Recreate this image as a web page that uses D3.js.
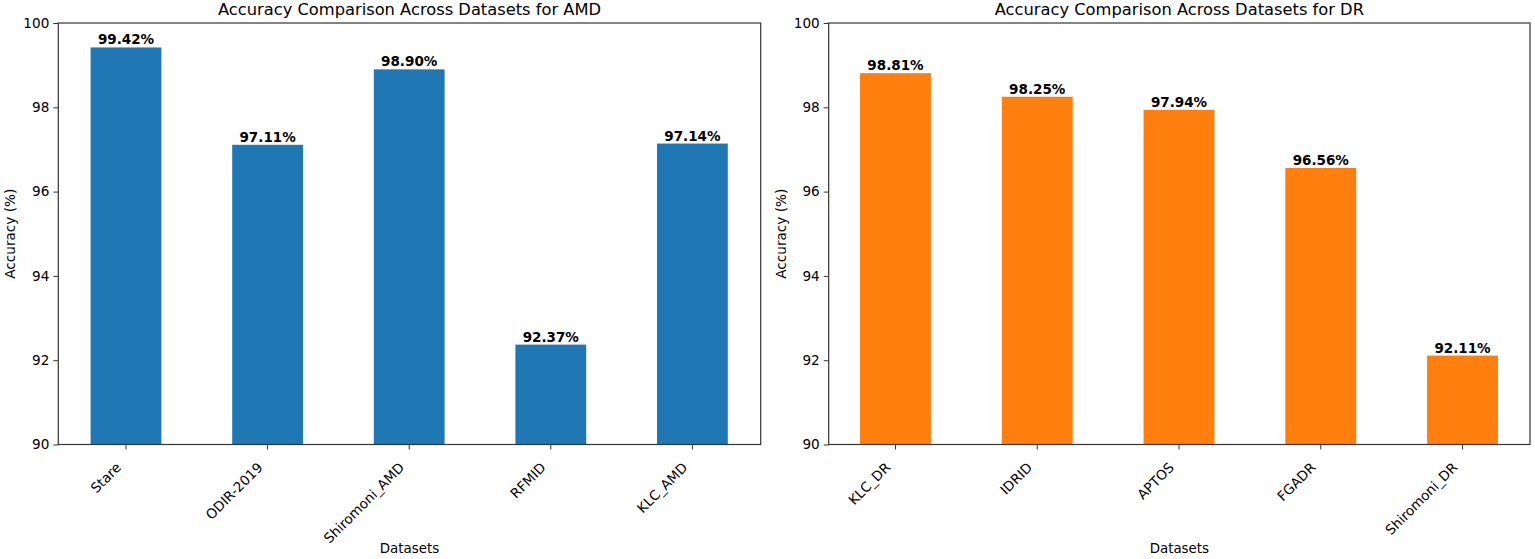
<!DOCTYPE html>
<html><head><meta charset="utf-8">
<script src="https://cdn.jsdelivr.net/npm/d3@7"></script>
<style>body{margin:0;background:#fff}svg{display:block}text{font-family:"DejaVu Sans",sans-serif;fill:#000}</style>
</head><body><svg id="c" width="1535" height="559"></svg>
<script>
const amdCategories = ["Stare","ODIR-2019","Shiromoni_AMD","RFMID","KLC_AMD"];
const amdValues = [99.42,97.11,98.90,92.37,97.14];
const drCategories = ["KLC_DR","IDRID","APTOS","FGADR","Shiromoni_DR"];
const drValues = [98.81,98.25,97.94,96.56,92.11];
const yTicks = [90,92,94,96,98,100];

const svg = d3.select("#c");
const plotTop = 23, plotBottom = 444.5;
const panels = [
  {cats:amdCategories, vals:amdValues, color:"#1f77b4", title:"Accuracy Comparison Across Datasets for AMD", x0:58.3, x1:760.7, r0:55.2, r1:763.2},
  {cats:drCategories, vals:drValues, color:"#ff7f0e", title:"Accuracy Comparison Across Datasets for DR", x0:828.7, x1:1530, r0:824.6, r1:1533.4}
];
panels.forEach(p=>{
  const g = svg.append("g");
  const x = d3.scaleBand().domain(p.cats).range([p.r0,p.r1]).paddingInner(0.5).paddingOuter(0.25);
  const y = d3.scaleLinear().domain([90,100]).range([plotBottom,plotTop]);
  g.selectAll("rect").data(p.cats).join("rect")
    .attr("x",d=>x(d)).attr("width",x.bandwidth())
    .attr("y",(d,i)=>y(p.vals[i])).attr("height",(d,i)=>plotBottom-y(p.vals[i]))
    .attr("fill",p.color);
  g.selectAll("text.lab").data(p.cats).join("text").attr("class","lab")
    .attr("x",d=>x(d)+x.bandwidth()/2).attr("y",(d,i)=>y(p.vals[i])-3)
    .attr("text-anchor","middle").attr("font-weight","bold").attr("font-size",13.5)
    .text((d,i)=>p.vals[i].toFixed(2)+"%");
  const ya = g.append("g").attr("transform",`translate(${p.x0},0)`)
    .call(d3.axisLeft(y).tickValues(yTicks).tickSize(5).tickPadding(4).tickFormat(d3.format("d")));
  ya.select(".domain").remove();
  ya.selectAll("text").attr("font-size",13.6).attr("fill","#222").attr("font-family","DejaVu Sans");
  ya.selectAll("line").attr("stroke","#333");
  const xa = g.append("g").attr("transform",`translate(0,${plotBottom})`)
    .call(d3.axisBottom(x).tickSize(5).tickFormat(""));
  xa.select(".domain").remove();
  xa.selectAll("line").attr("stroke","#333");
  g.selectAll("text.xt").data(p.cats).join("text").attr("class","xt")
    .attr("transform",d=>`translate(${x(d)+x.bandwidth()/2-11},${plotBottom+17}) rotate(-45)`)
    .attr("text-anchor","end").attr("dy","0.72em").attr("font-size",13.6).attr("fill","#222")
    .text(d=>d);
  g.append("rect").attr("x",p.x0).attr("y",plotTop).attr("width",p.x1-p.x0).attr("height",plotBottom-plotTop)
    .attr("fill","none").attr("stroke","#333").attr("stroke-width",1.2);
  g.append("text").attr("x",(p.x0+p.x1)/2).attr("y",15).attr("text-anchor","middle").attr("font-size",16.3).attr("fill","#111").text(p.title);
  g.append("text").attr("x",(p.x0+p.x1)/2).attr("y",553).attr("text-anchor","middle").attr("font-size",13.4).attr("fill","#222").text("Datasets");
  g.append("text").attr("transform",`translate(${p.x0-43},${(plotTop+plotBottom)/2}) rotate(-90)`).attr("text-anchor","middle").attr("font-size",13.6).attr("fill","#222").text("Accuracy (%)");
});
</script></body></html>
